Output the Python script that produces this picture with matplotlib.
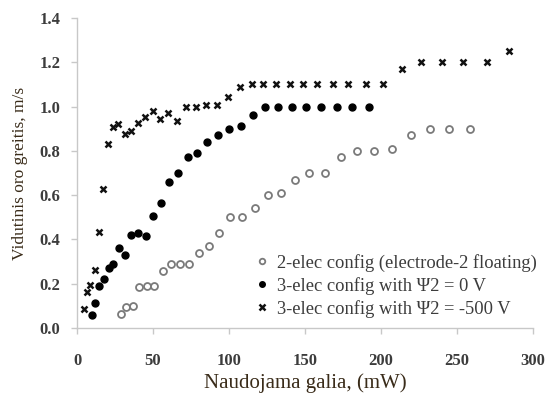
import matplotlib.pyplot as plt

# Power (mW) vs mean air velocity (m/s) for the three electrode configurations
p_2elec = [28.9, 32.2, 36.8, 40.8, 46.0, 50.7, 56.6, 61.8, 67.8, 73.7, 80.3, 86.8,
           93.4, 100.7, 108.6, 117.0, 125.7, 134.0, 143.4, 152.6, 163.2, 173.7,
           184.2, 195.4, 207.2, 219.7, 232.2, 244.7, 258.6]
v_2elec = [0.063, 0.095, 0.10, 0.185, 0.19, 0.19, 0.257, 0.29, 0.29, 0.29, 0.34, 0.37,
           0.43, 0.50, 0.50, 0.54, 0.60, 0.61, 0.67, 0.70, 0.70, 0.77,
           0.80, 0.80, 0.81, 0.87, 0.90, 0.90, 0.90]

p_0v = [9.7, 11.8, 14.7, 17.8, 21.3, 23.9, 27.8, 31.6, 35.7, 40.3, 45.4, 49.8,
        55.3, 60.7, 66.4, 72.8, 79.1, 85.7, 93.0, 100.0, 107.7, 115.6,
        124.0, 132.2, 141.2, 150.7, 160.3, 170.9, 181.1, 192.3]
v_0v = [0.059, 0.113, 0.19, 0.22, 0.27, 0.29, 0.36, 0.33, 0.42, 0.43, 0.415, 0.505,
        0.563, 0.66, 0.70, 0.77, 0.79, 0.84, 0.87, 0.90, 0.91, 0.964,
        1.0, 1.0, 1.0, 1.0, 1.0, 1.0, 1.0, 1.0]

p_500v = [4.7, 6.8, 8.8, 11.8, 14.6, 17.1, 20.6, 23.5, 27.2, 31.6, 35.5, 40.3,
          44.7, 49.7, 54.4, 59.7, 65.6, 71.9, 78.3, 84.9, 92.3, 99.5,
          107.2, 114.9, 122.6, 130.9, 139.8, 148.9, 158.1, 168.4, 178.5, 189.9,
          201.3, 213.6, 226.1, 240.0, 254.1, 269.5, 284.4]
v_500v = [0.087, 0.163, 0.194, 0.264, 0.435, 0.628, 0.83, 0.906, 0.92, 0.876, 0.89, 0.925,
          0.955, 0.98, 0.945, 0.972, 0.936, 1.0, 1.0, 1.007, 1.007, 1.045,
          1.09, 1.1, 1.1, 1.1, 1.1, 1.1, 1.1, 1.1, 1.1, 1.1,
          1.1, 1.168, 1.2, 1.2, 1.2, 1.2, 1.251]

labels = ["2-elec config (electrode-2 floating)",
          "3-elec config with \u03a82 = 0 V",
          "3-elec config with \u03a82 = -500 V"]

x_ticks = [0, 50, 100, 150, 200, 250, 300]
y_ticks = [0.0, 0.2, 0.4, 0.6, 0.8, 1.0, 1.2, 1.4]

plt.rcParams['font.family'] = ['Liberation Serif', 'DejaVu Serif']

fig = plt.figure(figsize=(5.47, 3.98), dpi=100)
ax = fig.add_axes([0.1408, 0.1759, 0.8336, 0.7789])

ax.plot(p_2elec, v_2elec, linestyle='none', marker='o', markersize=5,
        markerfacecolor='white', markeredgecolor='#7a7a7a', markeredgewidth=1.3,
        label=labels[0])
ax.plot(p_0v, v_0v, linestyle='none', marker='o', markersize=5,
        color='black', label=labels[1])
ax.plot(p_500v, v_500v, linestyle='none', marker='x', markersize=5,
        markeredgewidth=1.8, color='#111111', label=labels[2])

ax.set_xlim(0, 300)
ax.set_ylim(0, 1.4)
ax.set_xticks(x_ticks)
ax.set_yticks(y_ticks)
ax.set_xticklabels([str(t) for t in x_ticks])
ax.set_yticklabels([f"{t:.1f}" for t in y_ticks])

for side in ['top', 'right']:
    ax.spines[side].set_visible(False)
for side in ['left', 'bottom']:
    ax.spines[side].set_color('#c8c8c8')
    ax.spines[side].set_linewidth(1.0)

ax.tick_params(axis='both', colors='#c8c8c8', length=4, width=1.0,
               labelcolor='#3c3c3c', labelsize=12)
ax.tick_params(axis='x', pad=14)
ax.tick_params(axis='y', pad=8)
for lbl in ax.get_xticklabels() + ax.get_yticklabels():
    lbl.set_fontweight('bold')

ax.set_xlabel("Naudojama galia, (mW)", fontsize=15, color='#3a2c1a', labelpad=3)
ax.set_ylabel("Vidutinis oro greitis, m/s", fontsize=12.5, color='#3a2c1a', labelpad=8)

ax.legend(loc='upper left', bbox_to_anchor=(0.39, 0.24), frameon=False,
          fontsize=13.3, markerscale=0.8, handlelength=0.8, handletextpad=0.4,
          borderpad=0, borderaxespad=0, labelspacing=0.28, labelcolor='#3c3c3c')

fig.savefig('out.png', dpi=100)
